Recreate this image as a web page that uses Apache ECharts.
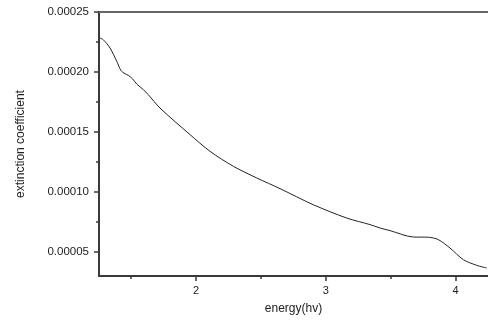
<!DOCTYPE html>
<html>
<head>
<meta charset="utf-8">
<script src="https://cdn.jsdelivr.net/npm/echarts@6/dist/echarts.min.js"></script>
<style>html,body{margin:0;padding:0;background:#fff}#c{width:488px;height:320px}</style>
</head>
<body>
<div id="c"></div>
<script>
var energy = [1.260,1.285,1.337,1.389,1.422,1.453,1.478,1.509,1.543,1.594,1.632,1.722,1.954,2.108,2.288,2.468,2.648,2.904,3.162,3.342,3.419,3.496,3.675,3.791,3.868,3.958,4.061,4.164,4.241];
var extinction = [22.83,22.69,22.0,20.89,20.11,19.85,19.72,19.45,19.0,18.53,18.11,17.0,14.78,13.39,12.14,11.17,10.28,8.94,7.83,7.28,7.0,6.78,6.25,6.23,6.03,5.33,4.36,3.89,3.67].map(function(v){return v*1e-5;});
var xMajorTicks = [2,3,4];
var xMinorTicks = [1.5,2.5,3.5];
var yMajorTicks = [0.00005,0.0001,0.00015,0.0002,0.00025];
var yMinorTicks = [0.000075,0.000125,0.000175,0.000225];
var xTitle = 'energy(hv)';
var yTitle = 'extinction coefficient';

var font = 'Liberation Sans, Arial, sans-serif';
var axisColor = '#3a3a3a';
var data = energy.map(function(x,i){return [x, extinction[i]];});
var X0 = 1.252, X1 = 4.251, Y0 = 0.00003, Y1 = 0.00025;

var chart = echarts.init(document.getElementById('c'));
chart.setOption({
  animation: false,
  grid: {left: 99, top: 12, right: 0, bottom: 42},
  xAxis: [
    {type:'value', position:'bottom', min:X0, max:X1,
     name: xTitle, nameLocation:'middle', nameGap: 27,
     nameTextStyle:{fontFamily:font, fontSize:12, color:'#222'},
     axisLine:{show:true, onZero:false, lineStyle:{color:axisColor, width:2}},
     axisTick:{show:true, inside:false, length:5, customValues:xMajorTicks, lineStyle:{color:axisColor, width:1.5}},
     axisLabel:{customValues:xMajorTicks, fontFamily:font, fontSize:11, color:'#222', margin:9},
     splitLine:{show:false}},
    {type:'value', position:'bottom', offset:0, min:X0, max:X1,
     axisLine:{show:false, onZero:false},
     axisTick:{show:true, length:3, customValues:xMinorTicks, lineStyle:{color:axisColor, width:1.5}},
     axisLabel:{show:false}, splitLine:{show:false}},
    {type:'value', position:'top', min:X0, max:X1,
     axisLine:{show:true, onZero:false, lineStyle:{color:'#666', width:2}},
     axisTick:{show:false}, axisLabel:{show:false}, splitLine:{show:false}}
  ],
  yAxis: [
    {type:'value', position:'left', min:Y0, max:Y1,
     name: yTitle, nameLocation:'middle', nameGap: 72, nameRotate: 90,
     nameTextStyle:{fontFamily:font, fontSize:12, color:'#222'},
     axisLine:{show:true, onZero:false, lineStyle:{color:axisColor, width:2}},
     axisTick:{show:true, length:5, customValues:yMajorTicks, lineStyle:{color:axisColor, width:1.5}},
     axisLabel:{customValues:yMajorTicks, fontFamily:font, fontSize:11.5, color:'#222', margin:10,
       formatter:function(v){return v.toFixed(5);}},
     splitLine:{show:false}},
    {type:'value', position:'left', offset:0, min:Y0, max:Y1,
     axisLine:{show:false, onZero:false},
     axisTick:{show:true, length:3, customValues:yMinorTicks, lineStyle:{color:axisColor, width:1.5}},
     axisLabel:{show:false}, splitLine:{show:false}}
  ],
  series: [{
    type:'line', data:data, xAxisIndex:0, yAxisIndex:0,
    showSymbol:false, smooth:0.3,
    lineStyle:{color:'#222', width:1}
  }]
});
</script>
</body>
</html>
